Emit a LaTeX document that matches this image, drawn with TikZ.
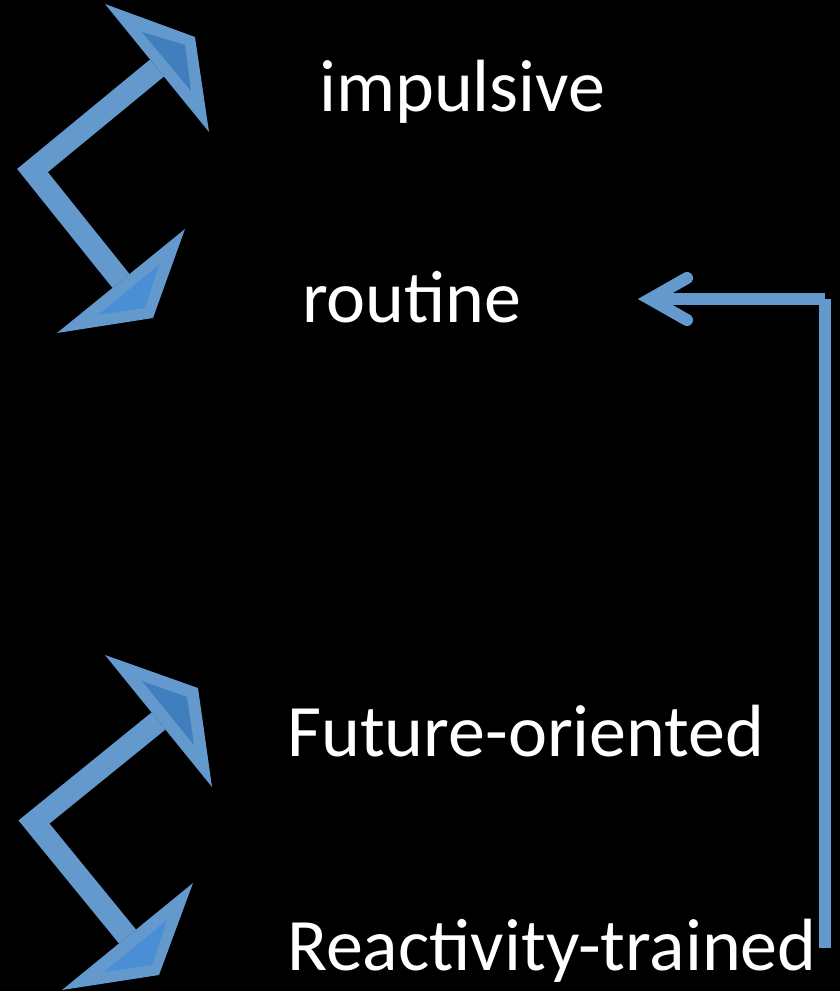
\documentclass[tikz,border=0pt]{standalone}
\usepackage{fontspec}
\setmainfont{Carlito}
\definecolor{rimblue}{RGB}{99,153,205}
\definecolor{headtop}{RGB}{64,126,189}
\definecolor{headlow}{RGB}{74,142,214}
\tikzset{
  shaft/.style={draw=rimblue, line width=22pt, line join=miter, line cap=butt},
  label/.style={text=white, font=\fontsize{74}{82}\selectfont, anchor=base west, inner sep=0pt},
  link/.style={draw=rimblue, line width=12pt, line cap=butt},
  barb/.style={draw=rimblue, line width=12pt, line cap=round, line join=miter}
}
\begin{document}
\begin{tikzpicture}[x=1pt, y=-1pt]
  \fill[black] (0,0) rectangle (840,991);
  \useasboundingbox (0,0) rectangle (840,991);

  % labels
  \node[label] (imp) at (319,111) {impulsive};
  \node[label] (rou) at (302,322) {routine};
  \node[label] (fut) at (287,756) {Future-oriented};
  \node[label] (rea) at (287,970) {Reactivity-trained};

  % upper bent double arrow
  \coordinate (ua) at (157,68);
  \coordinate (ue) at (32.5,170.5);
  \coordinate (ub) at (121,281);
  \draw[shaft] (ua) -- (ue) -- (ub);
  \fill[rimblue] (105,4) -- (195,37) -- (209,132) -- cycle;
  \fill[headtop] (142,32) -- (185,45) -- (191,91) -- cycle;
  \fill[rimblue] (57,333) -- (185,229) -- (153,318) -- cycle;
  \fill[headlow] (98,315) -- (159,265) -- (145,308) -- cycle;

  % lower bent double arrow
  \coordinate (la) at (158.5,721);
  \coordinate (le) at (34,822);
  \coordinate (lb) at (127.5,936.5);
  \draw[shaft] (la) -- (le) -- (lb);
  \fill[rimblue] (105,655) -- (198,688) -- (212,787) -- cycle;
  \fill[headtop] (142,681) -- (187,697) -- (194,745) -- cycle;
  \fill[rimblue] (62,990) -- (193,883) -- (159,975) -- cycle;
  \fill[headlow] (104,972) -- (167,920) -- (152,965) -- cycle;

  % feedback connector back to "routine"
  \coordinate (src) at (825,948);
  \coordinate (bend) at (825,299);
  \coordinate (tip) at (650,299);
  \draw[link] (src) -- (bend);
  \draw[link] (bend) -- (tip);
  \draw[barb] (687,278) -- (tip) -- (687,320);
\end{tikzpicture}
\end{document}
